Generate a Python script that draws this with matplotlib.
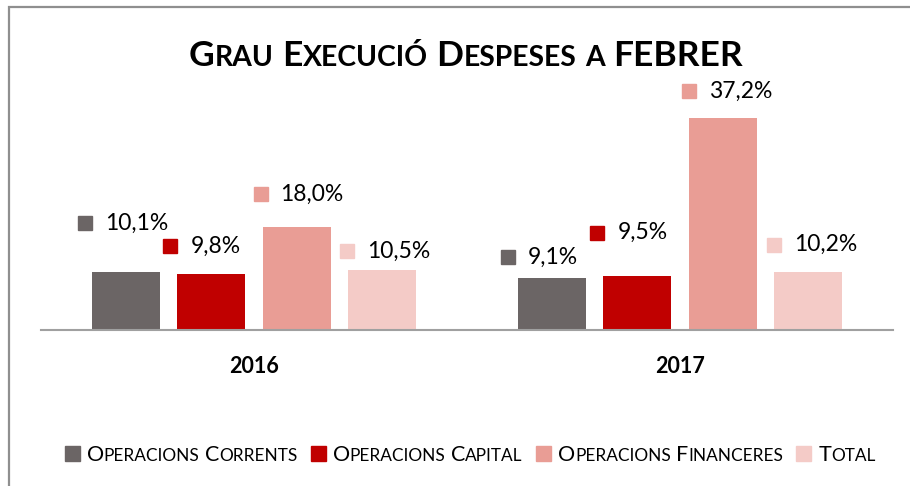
import matplotlib
matplotlib.use("Agg")
import matplotlib.pyplot as plt
from matplotlib.patches import Rectangle
from matplotlib.transforms import offset_copy

plt.rcParams['font.family'] = ['Lato', 'DejaVu Sans']

# data
years = ['2016', '2017']
series = ['Operacions Corrents', 'Operacions Capital',
          'Operacions Financeres', 'Total']
values = [
    [10.1, 9.1],   # Operacions Corrents
    [9.8, 9.5],    # Operacions Capital
    [18.0, 37.2],  # Operacions Financeres
    [10.5, 10.2],  # Total
]
colors = ['#6b6565', '#c00000', '#e99d95', '#f4cbc7']
title = 'Grau Execució Despeses a FEBRER'

# label offsets in pixels (marker centre relative to bar top centre)
label_dx = [[-41, -44], [-41, -40], [-36, -34], [-35, -34]]
label_dy = [[49, 21], [28, 43], [33, 27], [19, 27]]

W, H = 910, 486
fig = plt.figure(figsize=(W / 100, H / 100), dpi=100)
fig.patch.set_facecolor('white')

# outer chart frame (right/bottom edges fall outside the picture)
fig.patches.append(Rectangle((9 / W, -0.1), 1.2, 1 - 7 / H + 0.1,
                             transform=fig.transFigure, fill=False,
                             edgecolor='#8f8f8f', linewidth=1.6))

ax = fig.add_axes([41 / W, 156 / H, 852 / W, 268 / H])
ax.set_xlim(-0.5, 1.5)
ax.set_ylim(0, 47)
for s in ['top', 'left', 'right']:
    ax.spines[s].set_visible(False)
ax.spines['bottom'].set_color('#a0a0a0')
ax.spines['bottom'].set_linewidth(1.5)
ax.set_yticks([])
ax.set_xticks(range(len(years)))
ax.set_xticklabels(years, fontsize=15.5, fontweight='bold')
ax.tick_params(axis='x', length=0, pad=19)

offsets = [-0.3, -0.1, 0.1, 0.3]
width = 0.16
for i, name in enumerate(series):
    xs = [k + offsets[i] for k in range(len(years))]
    ax.bar(xs, values[i], width=width, color=colors[i], zorder=2)
    for k, v in enumerate(values[i]):
        dx, dy = label_dx[i][k], label_dy[i][k]
        tr_m = offset_copy(ax.transData, fig=fig, x=dx, y=dy, units='dots')
        ax.plot([xs[k]], [v], marker='s', markersize=10.5, color=colors[i],
                transform=tr_m, clip_on=False, zorder=3)
        tr_t = offset_copy(ax.transData, fig=fig, x=dx + 20, y=dy, units='dots')
        ax.text(xs[k], v, ('%.1f%%' % v).replace('.', ','), transform=tr_t,
                fontsize=16.5, ha='left', va='center', color='black')

renderer = fig.canvas.get_renderer()


def text_width(s, size, weight):
    t = fig.text(0, 0, s, fontsize=size, fontweight=weight)
    w = t.get_window_extent(renderer).width
    t.remove()
    return w


def smallcaps_runs(s, size, ratio):
    runs = []
    for word in s.split(' '):
        parts = []
        for ch in word:
            small = ch.islower()
            sz = size * ratio if small else size
            if parts and parts[-1][1] == sz:
                parts[-1][0] += ch.upper()
            else:
                parts.append([ch.upper(), sz])
        runs.append(parts)
    return runs


def smallcaps_width(s, size, weight, ratio=0.8):
    space = text_width('x x', size, weight) - text_width('xx', size, weight)
    total = 0
    runs = smallcaps_runs(s, size, ratio)
    for j, parts in enumerate(runs):
        for p, sz in parts:
            total += text_width(p, sz, weight)
        if j < len(runs) - 1:
            total += space
    return total


def draw_smallcaps(s, x, y, size, weight, ratio=0.8):
    # x, y in pixels from top-left; y is the baseline
    space = text_width('x x', size, weight) - text_width('xx', size, weight)
    runs = smallcaps_runs(s, size, ratio)
    for j, parts in enumerate(runs):
        for p, sz in parts:
            fig.text(x / W, 1 - y / H, p, fontsize=sz, fontweight=weight,
                     ha='left', va='baseline', color='black')
            x += text_width(p, sz, weight)
        if j < len(runs) - 1:
            x += space
    return x


# title
tw = smallcaps_width(title, 25.5, 'bold')
draw_smallcaps(title, 466 - tw / 2, 66, 25.5, 'bold')

# legend
leg_size = 15.5
box = 15
gap_in = 7
gap_out = 13
widths = [smallcaps_width(n, leg_size, 'normal') for n in series]
total = sum(widths) + len(series) * (box + gap_in) + (len(series) - 1) * gap_out
x = 470 - total / 2
for i, name in enumerate(series):
    fig.patches.append(Rectangle((x / W, 1 - (453 + box / 2) / H), box / W, box / H,
                                 transform=fig.transFigure, color=colors[i]))
    x += box + gap_in
    x = draw_smallcaps(name, x, 461, leg_size, 'normal')
    x += gap_out

fig.savefig('out.png', dpi=100)
